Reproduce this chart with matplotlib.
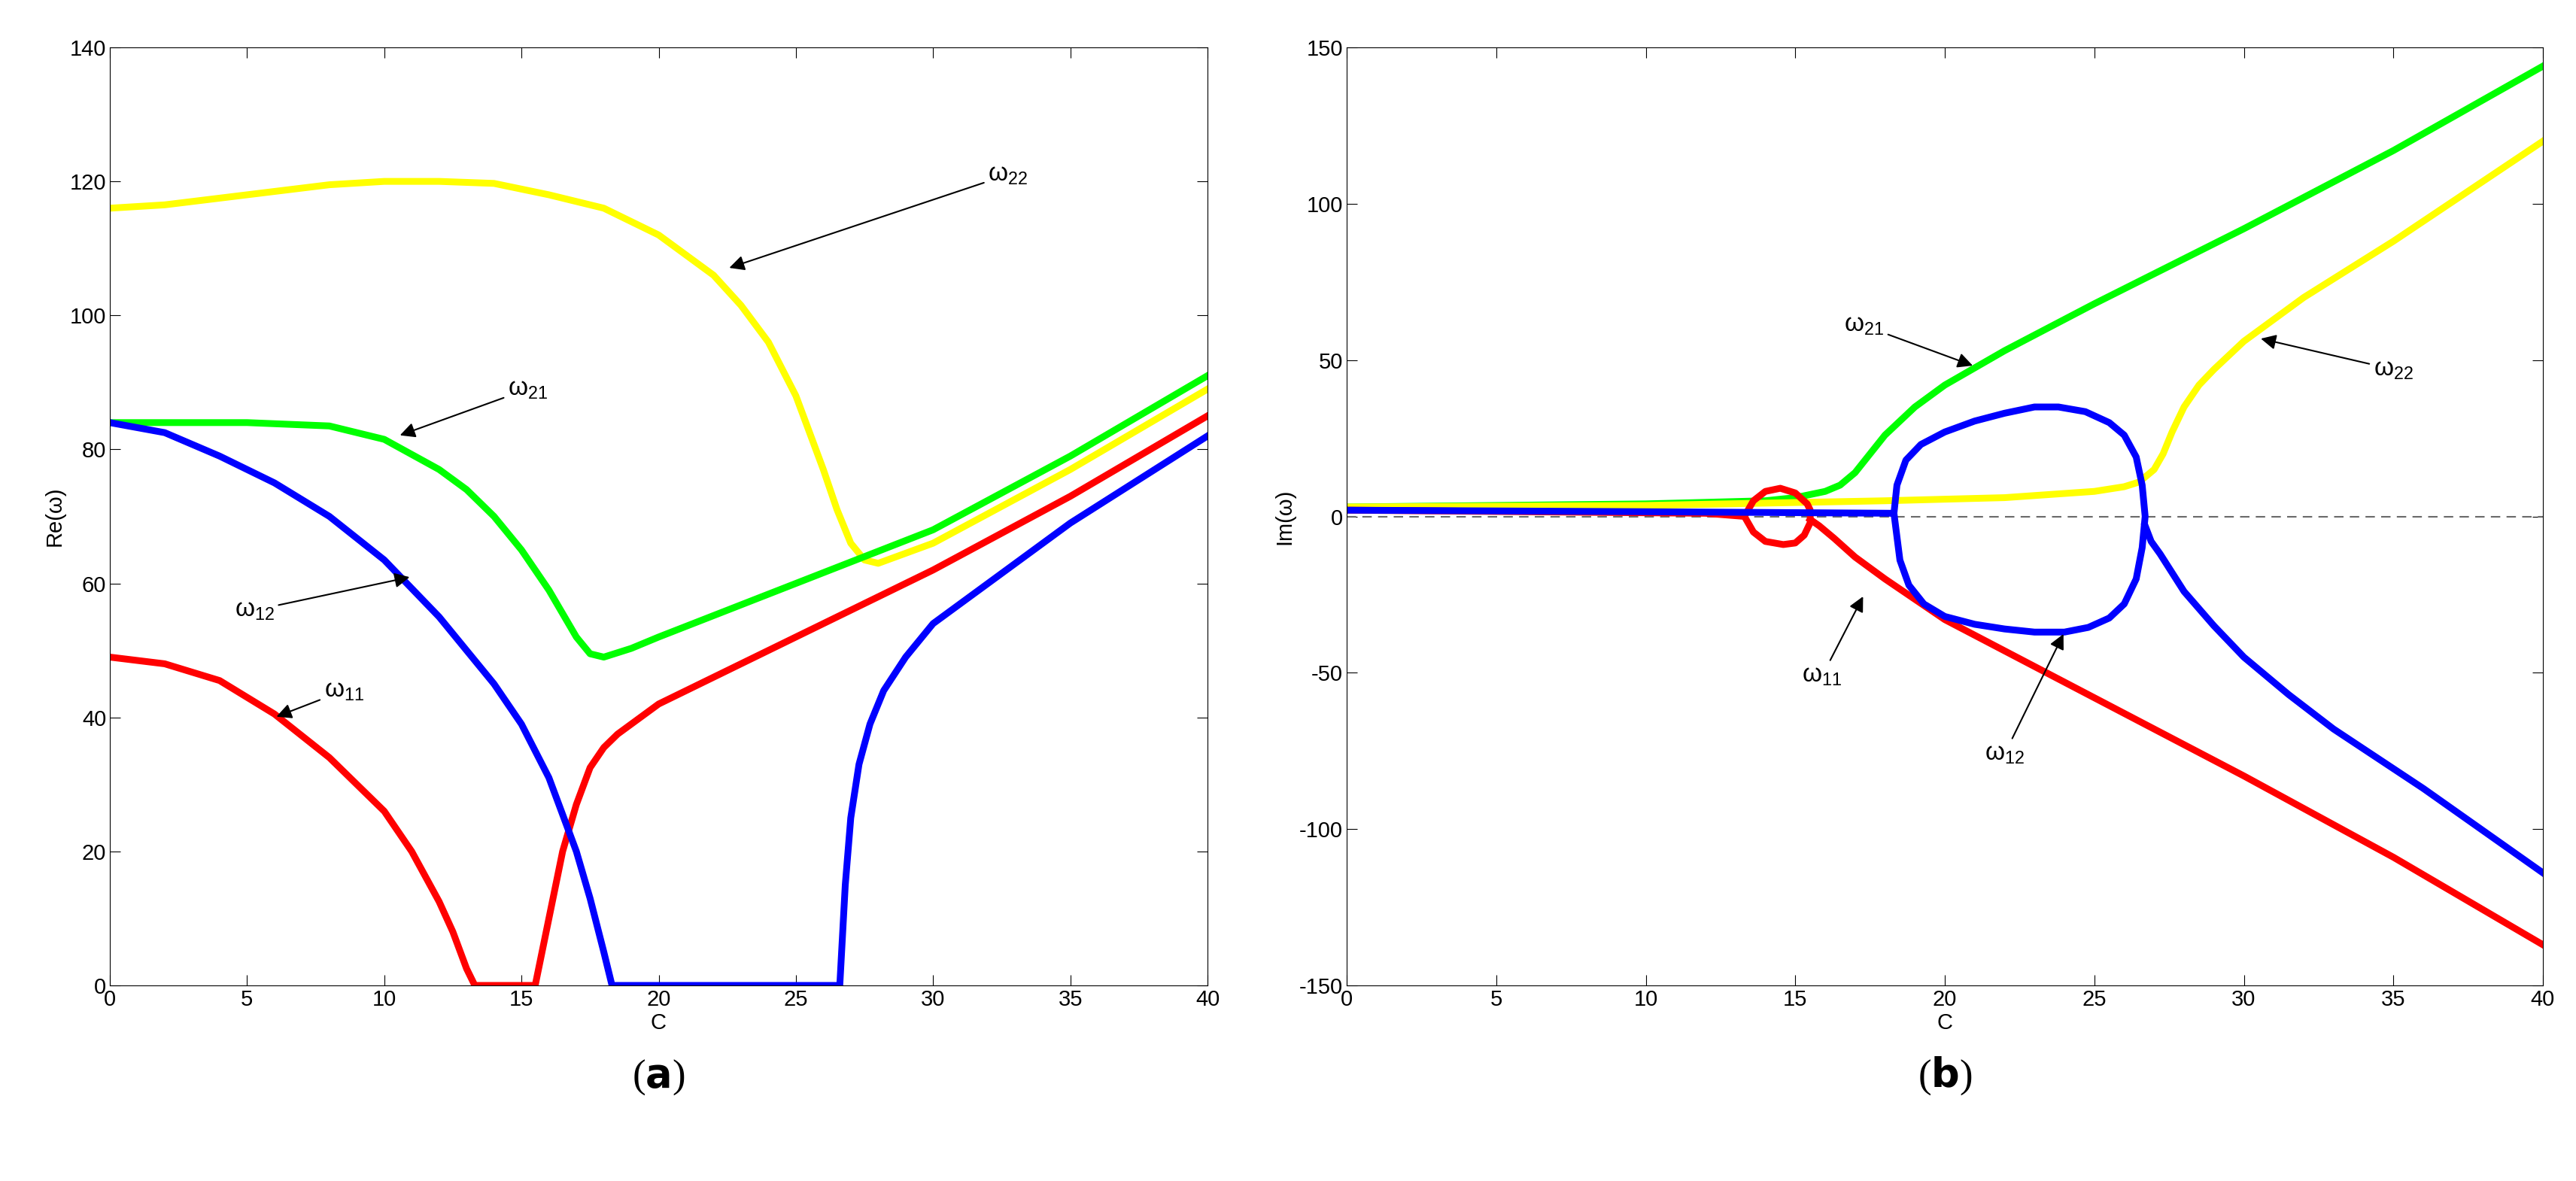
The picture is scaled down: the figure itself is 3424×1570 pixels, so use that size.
import numpy as np
import matplotlib.pyplot as plt

plt.rcParams["font.family"] = ["Liberation Sans", "DejaVu Sans"]
plt.rcParams["axes.unicode_minus"] = False

# ---- panel (a): Re(omega) ----
re_w22_c = [0, 2, 5, 8, 10, 12, 14, 16, 18, 20, 22, 23, 24, 25, 26, 26.5, 27, 27.5, 28, 29, 30, 35, 40]
re_w22 = [116, 116.5, 118, 119.5, 120, 120, 119.7, 118, 116, 112, 106, 101.5, 96, 88, 77, 71, 66, 63.5, 63, 64.5, 66, 77, 89]
re_w21_c = [0, 5, 8, 10, 12, 13, 14, 15, 16, 16.5, 17, 17.5, 18, 19, 20, 25, 30, 35, 40]
re_w21 = [84, 84, 83.5, 81.5, 77, 74, 70, 65, 59, 55.5, 52, 49.5, 49, 50.3, 52, 60, 68, 79, 91]
re_w12_c = [0, 2, 4, 6, 8, 10, 12, 14, 15, 16, 17, 17.5, 18, 18.3, 26.6, 26.8, 27, 27.3, 27.7, 28.2, 29, 30, 32, 35, 40]
re_w12 = [84, 82.5, 79, 75, 70, 63.5, 55, 45, 39, 31, 20, 13, 5, 0, 0, 15, 25, 33, 39, 44, 49, 54, 60, 69, 82]
re_w11_c = [0, 2, 4, 6, 8, 10, 11, 12, 12.5, 13, 13.3, 15.5, 16, 16.5, 17, 17.5, 18, 18.5, 19, 20, 22, 25, 30, 35, 40]
re_w11 = [49, 48, 45.5, 40.5, 34, 26, 20, 12.5, 8, 2.5, 0, 0, 10, 20, 27, 32.5, 35.5, 37.5, 39, 42, 46, 52, 62, 73, 85]

# ---- panel (b): Im(omega) ----
im_w21_c = [0, 10, 14, 15, 16, 16.5, 17, 17.5, 18, 19, 20, 22, 25, 30, 35, 40]
im_w21 = [3, 4, 5, 6, 8, 10, 14, 20, 26, 35, 42, 53, 68, 92, 117, 144]
im_w22_c = [0, 10, 18, 22, 25, 26, 26.5, 27, 27.3, 27.6, 28, 28.5, 29, 30, 32, 35, 40]
im_w22 = [3, 3.5, 5, 6, 8, 9.5, 11, 15, 20, 27, 35, 42, 47, 56, 70, 88, 120]
im_w12_flat_c = [0, 10, 18.3]
im_w12_flat = [2, 1.5, 1]
im_w12_loop_c = [18.3, 18.4, 18.7, 19.2, 20, 21, 22, 23, 23.8, 24.7, 25.5, 26, 26.4, 26.6, 26.7,
                 26.6, 26.4, 26, 25.5, 24.8, 24, 23, 22, 21, 20, 19.3, 18.8, 18.5, 18.3]
im_w12_loop = [1, 10, 18, 23, 27, 30.5, 33, 35, 35, 33.5, 30, 26, 19, 10, 0,
               -10, -20, -28, -32.5, -35.5, -37, -37, -36, -34.5, -32, -28, -22, -14, 1]
im_w12_tail_c = [26.7, 26.9, 27.2, 28, 29, 30, 31.5, 33, 36, 40]
im_w12_tail = [-3, -8, -12, -24, -35, -45, -57, -68, -87, -114]
im_w11_flat_c = [0, 12, 13.3]
im_w11_flat = [2, 1, 0]
im_w11_loop_c = [13.3, 13.6, 14, 14.5, 15, 15.4, 15.5, 15.5, 15.3, 15, 14.6, 14, 13.6, 13.3]
im_w11_loop = [0, 5, 8, 9, 7.5, 4, 2, -2, -6, -8.5, -9, -8, -5, 0]
im_w11_tail_c = [15.5, 15.8, 16.3, 17, 18, 20, 25, 30, 35, 40]
im_w11_tail = [-1, -3, -7, -13, -20, -33, -58, -83, -109, -137]

LW = 6.5
fig = plt.figure(figsize=(34.24, 15.70), dpi=100)
ax1 = fig.add_axes([146 / 3424, 1 - 1310 / 1570, 1459 / 3424, 1247 / 1570])
ax2 = fig.add_axes([1790 / 3424, 1 - 1310 / 1570, 1590 / 3424, 1247 / 1570])

ax1.plot(re_w22_c, re_w22, color="yellow", lw=LW)
ax1.plot(re_w21_c, re_w21, color="lime", lw=LW)
ax1.plot(re_w11_c, re_w11, color="red", lw=LW)
ax1.plot(re_w12_c, re_w12, color="blue", lw=LW)
ax1.set_xlim(0, 40)
ax1.set_ylim(0, 140)
ax1.set_xlabel("C", fontsize=21, labelpad=2)
ax1.set_ylabel("Re(ω)", fontsize=21)

ax2.axhline(0, color="dimgray", ls=(0, (6, 4)), lw=1.5)
ax2.plot(im_w21_c, im_w21, color="lime", lw=LW)
ax2.plot(im_w22_c, im_w22, color="yellow", lw=LW)
for c, v in [(im_w11_flat_c, im_w11_flat), (im_w11_loop_c, im_w11_loop), (im_w11_tail_c, im_w11_tail)]:
    ax2.plot(c, v, color="red", lw=LW)
for c, v in [(im_w12_flat_c, im_w12_flat), (im_w12_loop_c, im_w12_loop), (im_w12_tail_c, im_w12_tail)]:
    ax2.plot(c, v, color="blue", lw=LW)
ax2.set_xlim(0, 40)
ax2.set_ylim(-150, 150)
ax2.set_xlabel("C", fontsize=21, labelpad=2)
ax2.set_ylabel("Im(ω)", fontsize=21)

for ax in (ax1, ax2):
    ax.tick_params(labelsize=21, direction="in", top=True, right=True, length=10)

arrow = dict(arrowstyle="-|>", color="black", lw=1.5, mutation_scale=30)
ann1 = [("22", (22.5, 107), (32, 121)), ("21", (10.5, 82), (14.5, 89)),
        ("12", (11, 61), (6, 56)), ("11", (6, 40), (7.8, 44))]
for sub, xy, txt in ann1:
    ax1.annotate(r"$\mathregular{\omega_{%s}}$" % sub, xy=xy, xytext=txt, fontsize=24,
                 ha="left" if txt[0] > xy[0] else "right", va="center", arrowprops=arrow)
ann2 = [("21", (21, 48), (17.3, 61)), ("22", (30.5, 57), (35, 47)),
        ("11", (17.3, -25), (15.9, -51)), ("12", (24, -37), (22, -76))]
for sub, xy, txt in ann2:
    ax2.annotate(r"$\mathregular{\omega_{%s}}$" % sub, xy=xy, xytext=txt, fontsize=24,
                 ha="center", va="center", arrowprops=arrow)

fig.text((146 + 1605) / 2 / 3424, 1 - 1445 / 1570, r"($\mathbf{a}$)", fontsize=38, ha="center",
         family=["Liberation Serif", "DejaVu Serif"])
fig.text((1790 + 3380) / 2 / 3424, 1 - 1445 / 1570, r"($\mathbf{b}$)", fontsize=38, ha="center",
         family=["Liberation Serif", "DejaVu Serif"])

fig.savefig("out.png", dpi=100)
